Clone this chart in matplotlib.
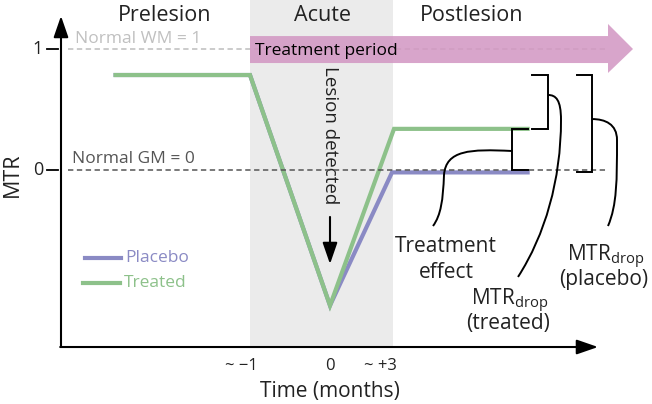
import matplotlib
matplotlib.use("Agg")
import matplotlib.pyplot as plt
from matplotlib.patches import Polygon, PathPatch, Rectangle
from matplotlib.path import Path

plt.rcParams['font.family'] = ['Open Sans', 'DejaVu Sans']
plt.rcParams['mathtext.fontset'] = 'custom'
plt.rcParams['mathtext.rm'] = 'Open Sans'

# schematic data (time in schematic months, MTR normalised: GM = 0, WM = 1)
time_treated = [-2.68, -1.0, 0.0, 0.80, 2.47]
mtr_treated = [0.785, 0.785, -1.12, 0.34, 0.34]
time_placebo = [-2.68, -1.0, 0.0, 0.775, 2.47]
mtr_placebo = [0.785, 0.785, -1.12, -0.02, -0.02]

acute_start, acute_end = -1.0, 0.79
normal_wm, normal_gm = 1, 0
xtick_pos = [-1.1125, 0.0, 0.625]
xtick_labels = ['~ \u22121', '0', '~ +3']
ytick_pos = [normal_wm, normal_gm]
ytick_labels = ['1', '0']

c_placebo = '#8a8ac4'
c_treated = '#8dc18a'
c_pink = '#d296c2'
c_text = '#222222'

fig = plt.figure(figsize=(6.52, 4.04), dpi=100)
ax = fig.add_axes([0, 0, 1, 1])
ax.set_xlim(-4.125, 4.025)
ax.set_ylim(-1.934, 1.405)
ax.axis('off')

x0, y0 = -3.3625, -1.463   # axis origin

# acute phase shading
ax.add_patch(Rectangle((acute_start, y0), acute_end - acute_start, 1.405 - y0,
                       facecolor='#ebebeb', edgecolor='none', zorder=0))

# reference levels
ax.plot([-3.275, 3.4625], [normal_wm] * 2, color='#bdbdbd', lw=1.1,
        ls=(0, (3.5, 2.3)), zorder=1)
ax.plot([-3.275, 3.475], [normal_gm] * 2, color='#555555', lw=1.1,
        ls=(0, (3.5, 2.3)), zorder=5)
ax.text(-3.1875, 1.05, 'Normal WM = 1', color='#c0c0c0', fontsize=12.5)
ax.text(-3.225, 0.058, 'Normal GM = 0', color='#555555', fontsize=12.5)

# treatment period arrow
ax.add_patch(Polygon([(acute_start, 1.107), (3.475, 1.107), (3.475, 1.207),
                      (3.7875, 1.0), (3.475, 0.802), (3.475, 0.884),
                      (acute_start, 0.884)], closed=True, facecolor=c_pink,
                     edgecolor='none', alpha=0.85, zorder=2))
ax.text(-0.9375, 0.95, 'Treatment period', color='black', fontsize=12.5, zorder=3)

# curves
ax.plot(time_placebo, mtr_placebo, color=c_placebo, lw=3, zorder=3,
        solid_joinstyle='miter')
ax.plot(time_treated, mtr_treated, color=c_treated, lw=3, zorder=4,
        solid_joinstyle='miter')

# axes with arrows
arrow = dict(arrowstyle='-|>,head_length=1.3,head_width=0.45', lw=1.5,
             color='black', mutation_scale=10, shrinkA=0, shrinkB=0)
ax.annotate('', xy=(x0, 1.273), xytext=(x0, y0), arrowprops=arrow, zorder=6)
ax.annotate('', xy=(3.35, y0), xytext=(x0 - 0.01, y0), arrowprops=arrow, zorder=6)

for yp, lab in zip(ytick_pos, ytick_labels):
    ax.plot([-3.5375, -3.4], [yp, yp], color='black', lw=1.3)
    ax.text(-3.5875, yp, lab, ha='right', va='center', fontsize=13, color=c_text)
for xp, lab in zip(xtick_pos, xtick_labels):
    ax.text(xp, -1.653, lab, ha='center', va='baseline', fontsize=12, color=c_text)

ax.text(0, -1.876, 'Time (months)', ha='center', va='baseline', fontsize=15, color=c_text)
ax.text(-3.975, -0.037, 'MTR', ha='center', va='center', rotation=90,
        fontsize=15.5, color=c_text)

# phase headers
for xc, lab in zip([-2.0625, -0.1, 1.775], ['Prelesion', 'Acute', 'Postlesion']):
    ax.text(xc, 1.231, lab, ha='center', va='baseline', fontsize=15.5, color=c_text)

# lesion detected
ax.text(0, 0.289, 'Lesion detected', rotation=-90, ha='center', va='center',
        fontsize=13.5, color=c_text)
ax.annotate('', xy=(0, -0.777), xytext=(0, -0.388), arrowprops=arrow)

# legend
ax.plot([-3.0625, -2.6125], [-0.727] * 2, color=c_placebo, lw=3)
ax.text(-2.5625, -0.727, 'Placebo', color=c_placebo, va='center', fontsize=12.5)
ax.plot([-3.0875, -2.625], [-0.934] * 2, color=c_treated, lw=3)
ax.text(-2.575, -0.934, 'Treated', color=c_treated, va='center', fontsize=12.5)


def bracket(x, x_serif, top, bottom):
    ax.plot([x_serif, x, x, x_serif], [top, top, bottom, bottom],
            color='black', lw=1.4, zorder=6, solid_joinstyle='miter')


def connector(pts):
    codes = [Path.MOVETO] + [Path.CURVE4] * (len(pts) - 1)
    ax.add_patch(PathPatch(Path(pts, codes), facecolor='none',
                           edgecolor='black', lw=1.4, zorder=6))


# treatment effect
bracket(2.275, 2.475, mtr_treated[-1], normal_gm)
connector([(2.275, 0.157), (1.75, 0.174), (1.45, 0.165), (1.425, -0.041),
           (1.4125, -0.248), (1.3875, -0.372), (1.2875, -0.463)])
ax.text(1.45, -0.678, 'Treatment', ha='center', va='baseline', fontsize=15, color=c_text)
ax.text(1.45, -0.893, 'effect', ha='center', va='baseline', fontsize=15, color=c_text)

# MTR drop treated
bracket(2.725, 2.525, mtr_treated[0], mtr_treated[-1])
connector([(2.725, 0.62), (2.825, 0.62), (2.8875, 0.579), (2.8875, 0.413),
           (2.8875, -0.083), (2.6875, -0.537), (2.35, -0.884)])
ax.text(2.25, -1.116, r'MTR$_{\mathrm{drop}}$', ha='center', va='baseline',
        fontsize=15, color=c_text)
ax.text(2.225, -1.314, '(treated)', ha='center', va='baseline', fontsize=15, color=c_text)

# MTR drop placebo
bracket(3.275, 3.0875, mtr_placebo[0], mtr_placebo[-1])
connector([(3.275, 0.421), (3.4375, 0.421), (3.5875, 0.38), (3.5875, 0.248),
           (3.5875, -0.083), (3.5875, -0.289), (3.475, -0.463)])
ax.text(3.45, -0.752, r'MTR$_{\mathrm{drop}}$', ha='center', va='baseline',
        fontsize=15, color=c_text)
ax.text(3.425, -0.952, '(placebo)', ha='center', va='baseline', fontsize=15, color=c_text)

fig.savefig('out.png', dpi=100)
